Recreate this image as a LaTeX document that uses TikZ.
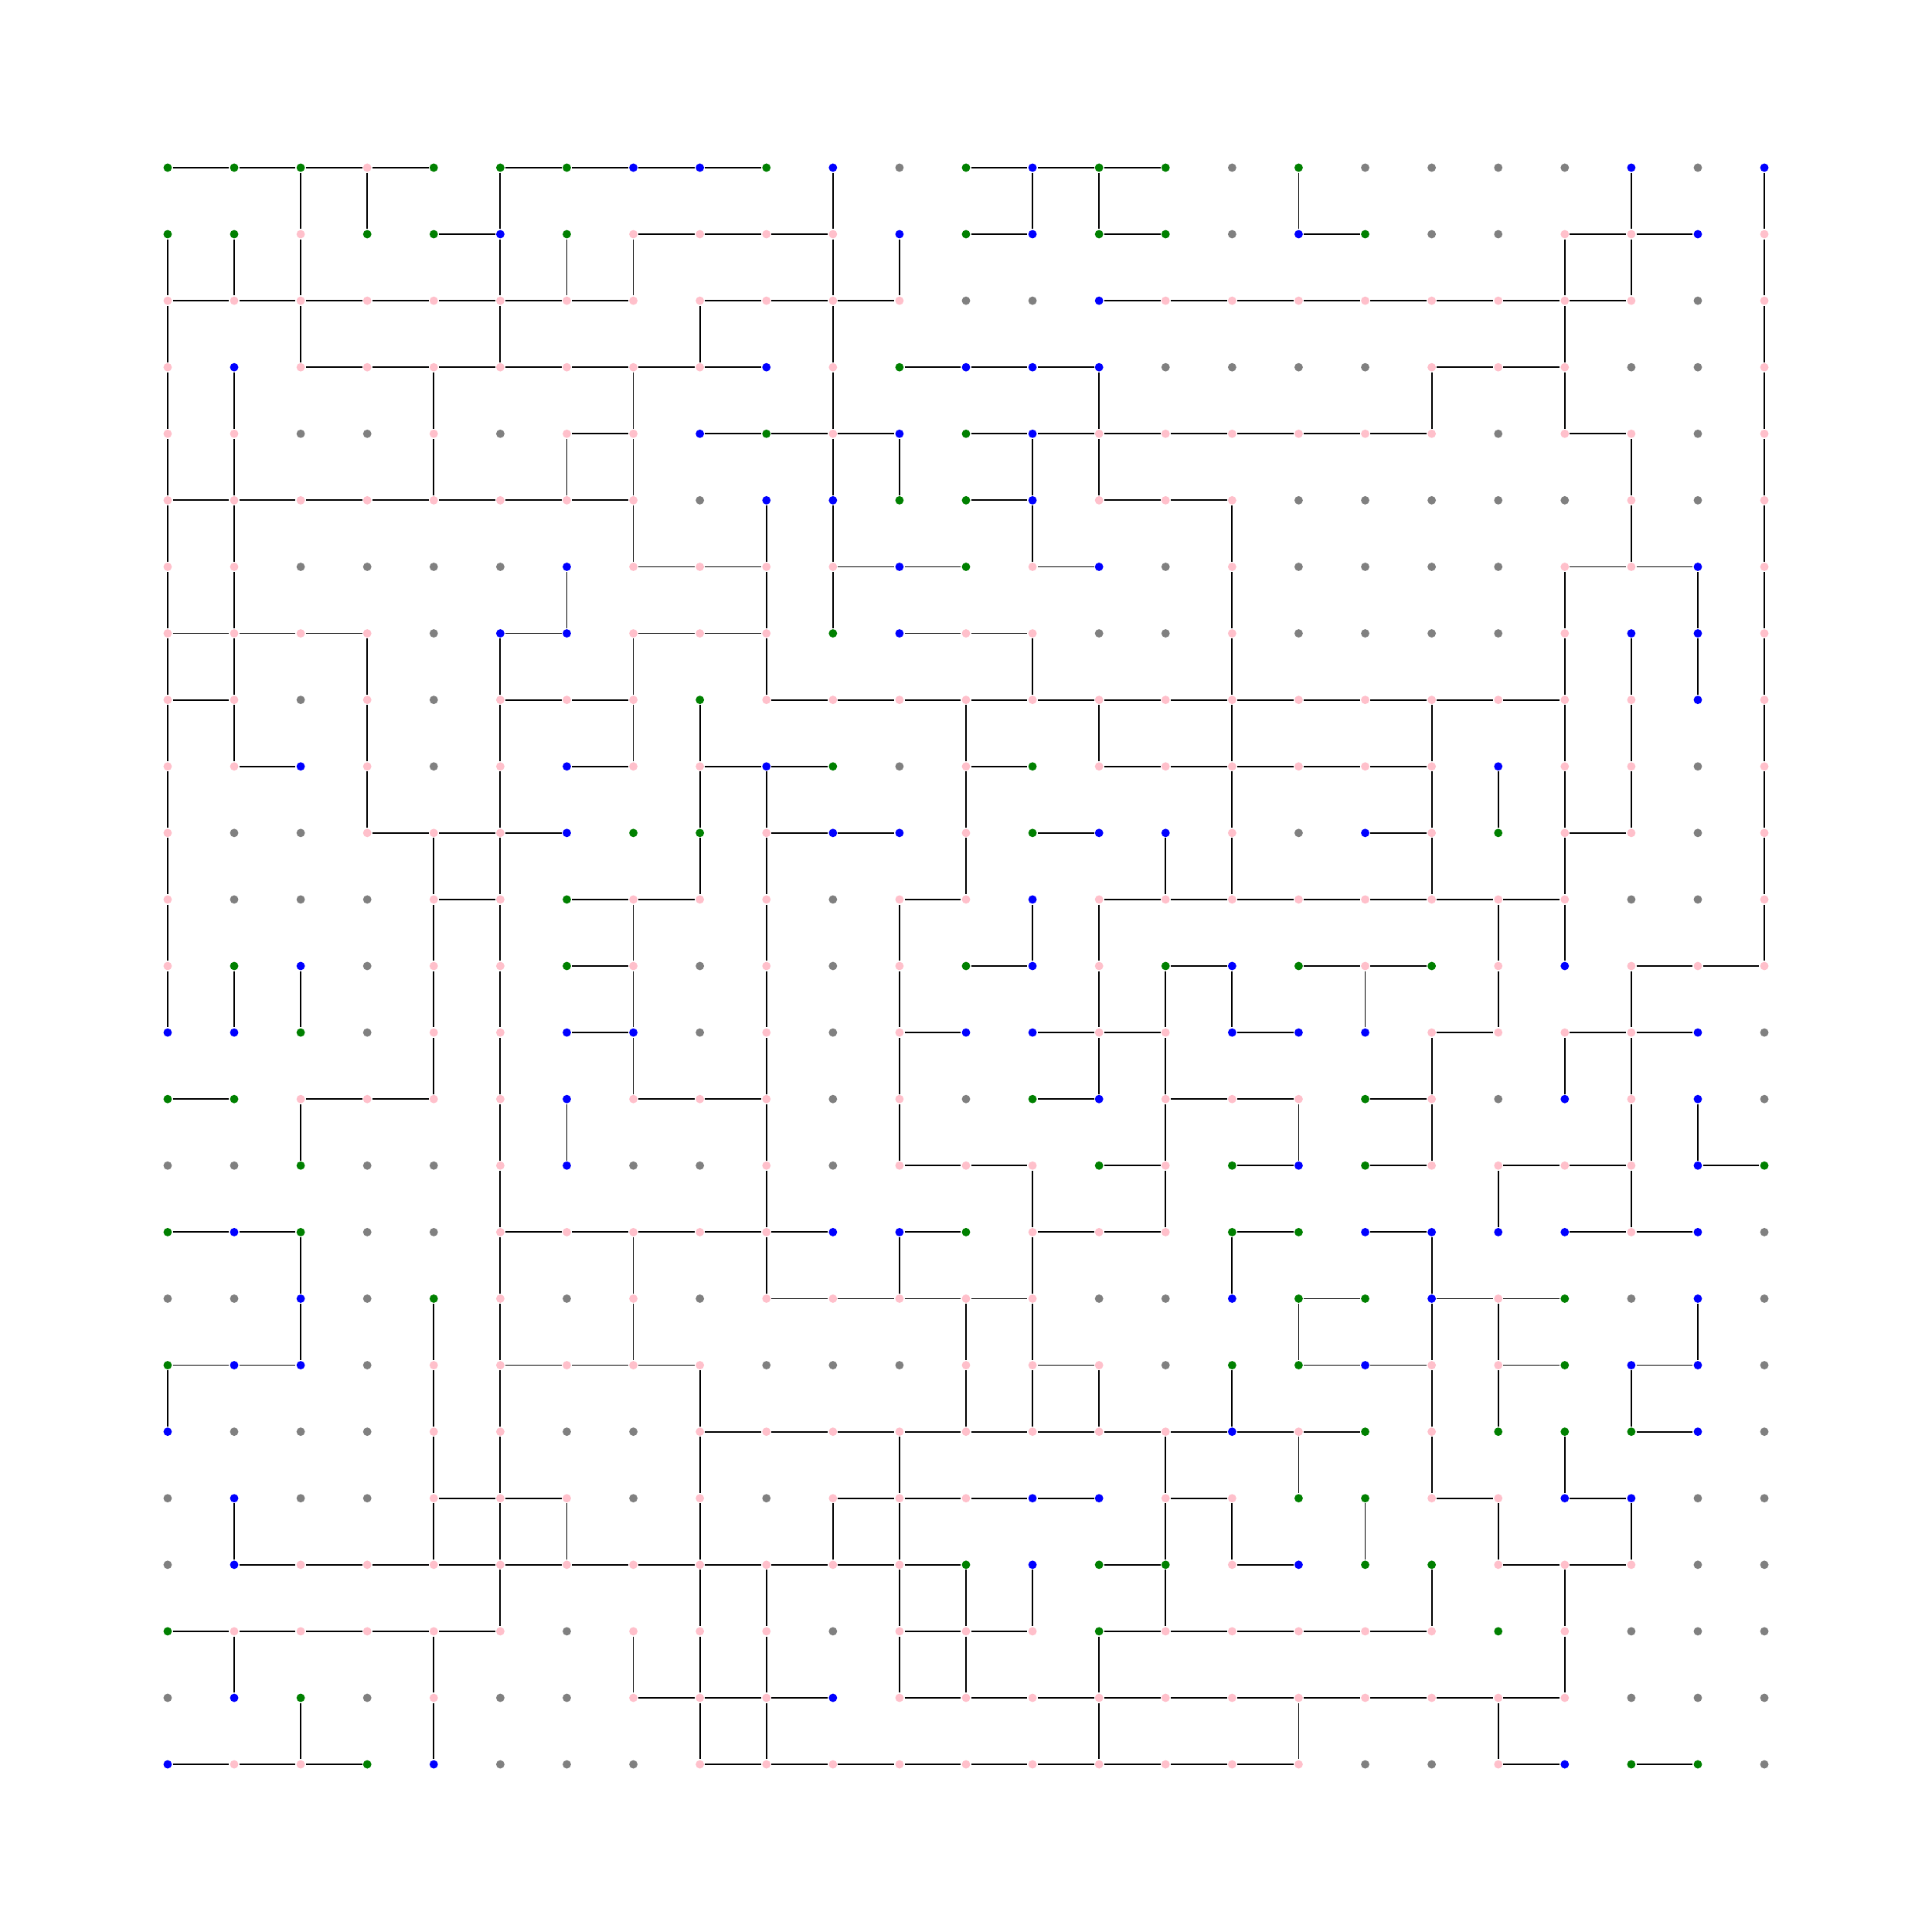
\documentclass[tikz,border=0pt]{standalone}
\usepackage{tikz}

\definecolor{cg}{RGB}{0,128,0}
\definecolor{cb}{RGB}{0,0,255}
\definecolor{cp}{RGB}{255,192,203}
\definecolor{cx}{RGB}{128,128,128}

\tikzset{
	dot/.style={circle,inner sep=0pt,minimum size=1.8pt},
	wire/.style={line width=0.3pt,black}
}

\begin{document}
\begin{tikzpicture}[x=0.5cm,y=0.5cm]
		
		\useasboundingbox (-2.52,2.52) rectangle (26.52,-26.52);
		
		% Points
		\foreach \cols [count=\r from 0] in {
			{g,g,g,p,g,g,g,b,b,g,b,x,g,b,g,g,x,g,x,x,x,x,b,x,b},
			{g,g,p,g,g,b,g,p,p,p,p,b,g,b,g,g,x,b,g,x,x,p,p,b,p},
			{p,p,p,p,p,p,p,p,p,p,p,p,x,x,b,p,p,p,p,p,p,p,p,x,p},
			{p,b,p,p,p,p,p,p,p,b,p,g,b,b,b,x,x,x,x,p,p,p,x,x,p},
			{p,p,x,x,p,x,p,p,b,g,p,b,g,b,p,p,p,p,p,p,x,p,p,x,p},
			{p,p,p,p,p,p,p,p,x,b,b,g,g,b,p,p,p,x,x,x,x,x,p,x,p},
			{p,p,x,x,x,x,b,p,p,p,p,b,g,p,b,x,p,x,x,x,x,p,p,b,p},
			{p,p,p,p,x,b,b,p,p,p,g,b,p,p,x,x,p,x,x,x,x,p,b,b,p},
			{p,p,x,p,x,p,p,p,g,p,p,p,p,p,p,p,p,p,p,p,p,p,p,b,p},
			{p,p,b,p,x,p,b,p,p,b,g,x,p,g,p,p,p,p,p,p,b,p,p,x,p},
			{p,x,x,p,p,p,b,g,g,p,b,b,p,g,b,b,p,x,b,p,g,p,p,x,p},
			{p,x,x,x,p,p,g,p,p,p,x,p,p,b,p,p,p,p,p,p,p,p,x,x,p},
			{p,g,b,x,p,p,g,p,x,p,x,p,g,b,p,g,b,g,p,g,p,b,p,p,p},
			{b,b,g,x,p,p,b,b,x,p,x,p,b,b,p,p,b,b,b,p,p,p,p,b,x},
			{g,g,p,p,p,p,b,p,p,p,x,p,x,g,b,p,p,p,g,p,x,b,p,b,x},
			{x,x,g,x,x,p,b,x,x,p,x,p,p,p,g,p,g,b,g,p,p,p,p,b,g},
			{g,b,g,x,x,p,p,p,p,p,b,b,g,p,p,p,g,g,b,b,b,b,p,b,x},
			{x,x,b,x,g,p,x,p,x,p,p,p,p,p,x,x,b,g,g,b,p,g,x,b,x},
			{g,b,b,x,p,p,p,p,p,x,x,x,p,p,p,x,g,g,b,p,p,g,b,b,x},
			{b,x,x,x,p,p,x,x,p,p,p,p,p,p,p,p,b,p,g,p,g,g,g,b,x},
			{x,b,x,x,p,p,p,x,p,x,p,p,p,b,b,p,p,g,g,p,p,b,b,x,x},
			{x,b,p,p,p,p,p,p,p,p,p,p,g,b,g,g,p,b,g,g,p,p,p,x,x},
			{g,p,p,p,p,p,x,p,p,p,x,p,p,p,g,p,p,p,p,p,g,p,x,x,x},
			{x,b,g,x,p,x,x,p,p,p,b,p,p,p,p,p,p,p,p,p,p,p,x,x,x},
			{b,p,p,g,b,x,x,x,p,p,p,p,p,p,p,p,p,p,x,x,p,b,g,g,x}}{
			\foreach \k [count=\c from 0] in \cols
			\node[dot,fill=c\k] (n-\r-\c) at (\c,-\r) {};
		}
		
		% Horizontal edges (row/from/to)
		\foreach \r/\a/\b in {
			0/0/4, 0/5/9, 0/12/15,
			1/4/5, 1/7/10, 1/12/13, 1/14/15, 1/17/18, 1/21/23,
			2/0/7, 2/8/11, 2/14/22,
			3/2/9, 3/11/14, 3/19/21,
			4/6/7, 4/8/11, 4/12/19, 4/21/22,
			5/0/7, 5/12/13, 5/14/16,
			6/7/9, 6/10/12, 6/13/14, 6/21/23,
			7/0/3, 7/5/6, 7/7/9, 7/11/13,
			8/0/1, 8/5/7, 8/9/21,
			9/1/2, 9/6/7, 9/8/10, 9/12/13, 9/14/19,
			10/3/6, 10/9/11, 10/13/14, 10/18/19, 10/21/22,
			11/4/5, 11/6/8, 11/11/12, 11/14/21,
			12/6/7, 12/12/13, 12/15/16, 12/17/19, 12/22/24,
			13/6/7, 13/11/12, 13/13/15, 13/16/17, 13/19/20, 13/21/23,
			14/0/1, 14/2/4, 14/7/9, 14/13/14, 14/15/17, 14/18/19,
			15/11/13, 15/14/15, 15/16/17, 15/18/19, 15/20/22, 15/23/24,
			16/0/2, 16/5/10, 16/11/12, 16/13/15, 16/16/17, 16/18/19, 16/21/23,
			17/9/13, 17/17/18, 17/19/21,
			18/0/2, 18/5/8, 18/13/14, 18/17/19, 18/20/21, 18/22/23,
			19/8/18, 19/22/23,
			20/4/6, 20/10/14, 20/15/16, 20/19/20, 20/21/22,
			21/1/12, 21/14/15, 21/16/17, 21/20/22,
			22/0/5, 22/11/13, 22/14/19,
			23/7/10, 23/11/21,
			24/0/3, 24/8/17, 24/20/21, 24/22/23}{
			\pgfmathtruncatemacro{\e}{\b-1}
			\foreach \c in {\a,...,\e}{
				\pgfmathtruncatemacro{\d}{\c+1}
				\draw[wire] (n-\r-\c) -- (n-\r-\d);
			}
		}
		
		% Vertical edges (row/columns)
		\foreach \r/\cols in {
			0/{2,3,5,10,13,14,17,22,24},
			1/{0,1,2,5,6,7,10,11,21,22,24},
			2/{0,2,5,8,10,21,24},
			3/{0,1,4,7,10,14,19,21,24},
			4/{0,1,4,6,7,10,11,13,14,22,24},
			5/{0,1,7,9,10,13,16,22,24},
			6/{0,1,6,9,10,16,21,23,24},
			7/{0,1,3,5,7,9,13,16,21,22,23,24},
			8/{0,1,3,5,7,8,12,14,16,19,21,22,24},
			9/{0,3,5,8,9,12,16,19,20,21,22,24},
			10/{0,4,5,8,9,12,15,16,19,21,24},
			11/{0,4,5,7,9,11,13,14,20,21,24},
			12/{0,1,2,4,5,7,9,11,14,15,16,18,20,22},
			13/{4,5,7,9,11,14,15,19,21,22},
			14/{2,5,6,9,11,15,17,19,22,23},
			15/{5,9,13,15,20,22},
			16/{2,5,7,9,11,13,16,19},
			17/{2,4,5,7,12,13,17,19,20,23},
			18/{0,4,5,8,12,13,14,16,19,20,22},
			19/{4,5,8,11,15,17,19,21},
			20/{1,4,5,6,8,10,11,15,16,18,20,22},
			21/{5,8,9,11,12,13,15,19,21},
			22/{1,4,7,8,9,11,12,14,21},
			23/{2,4,8,9,14,17,20}}{
			\pgfmathtruncatemacro{\s}{\r+1}
			\foreach \c in \cols
			\draw[wire] (n-\r-\c) -- (n-\s-\c);
		}
		
	\end{tikzpicture}
\end{document}
